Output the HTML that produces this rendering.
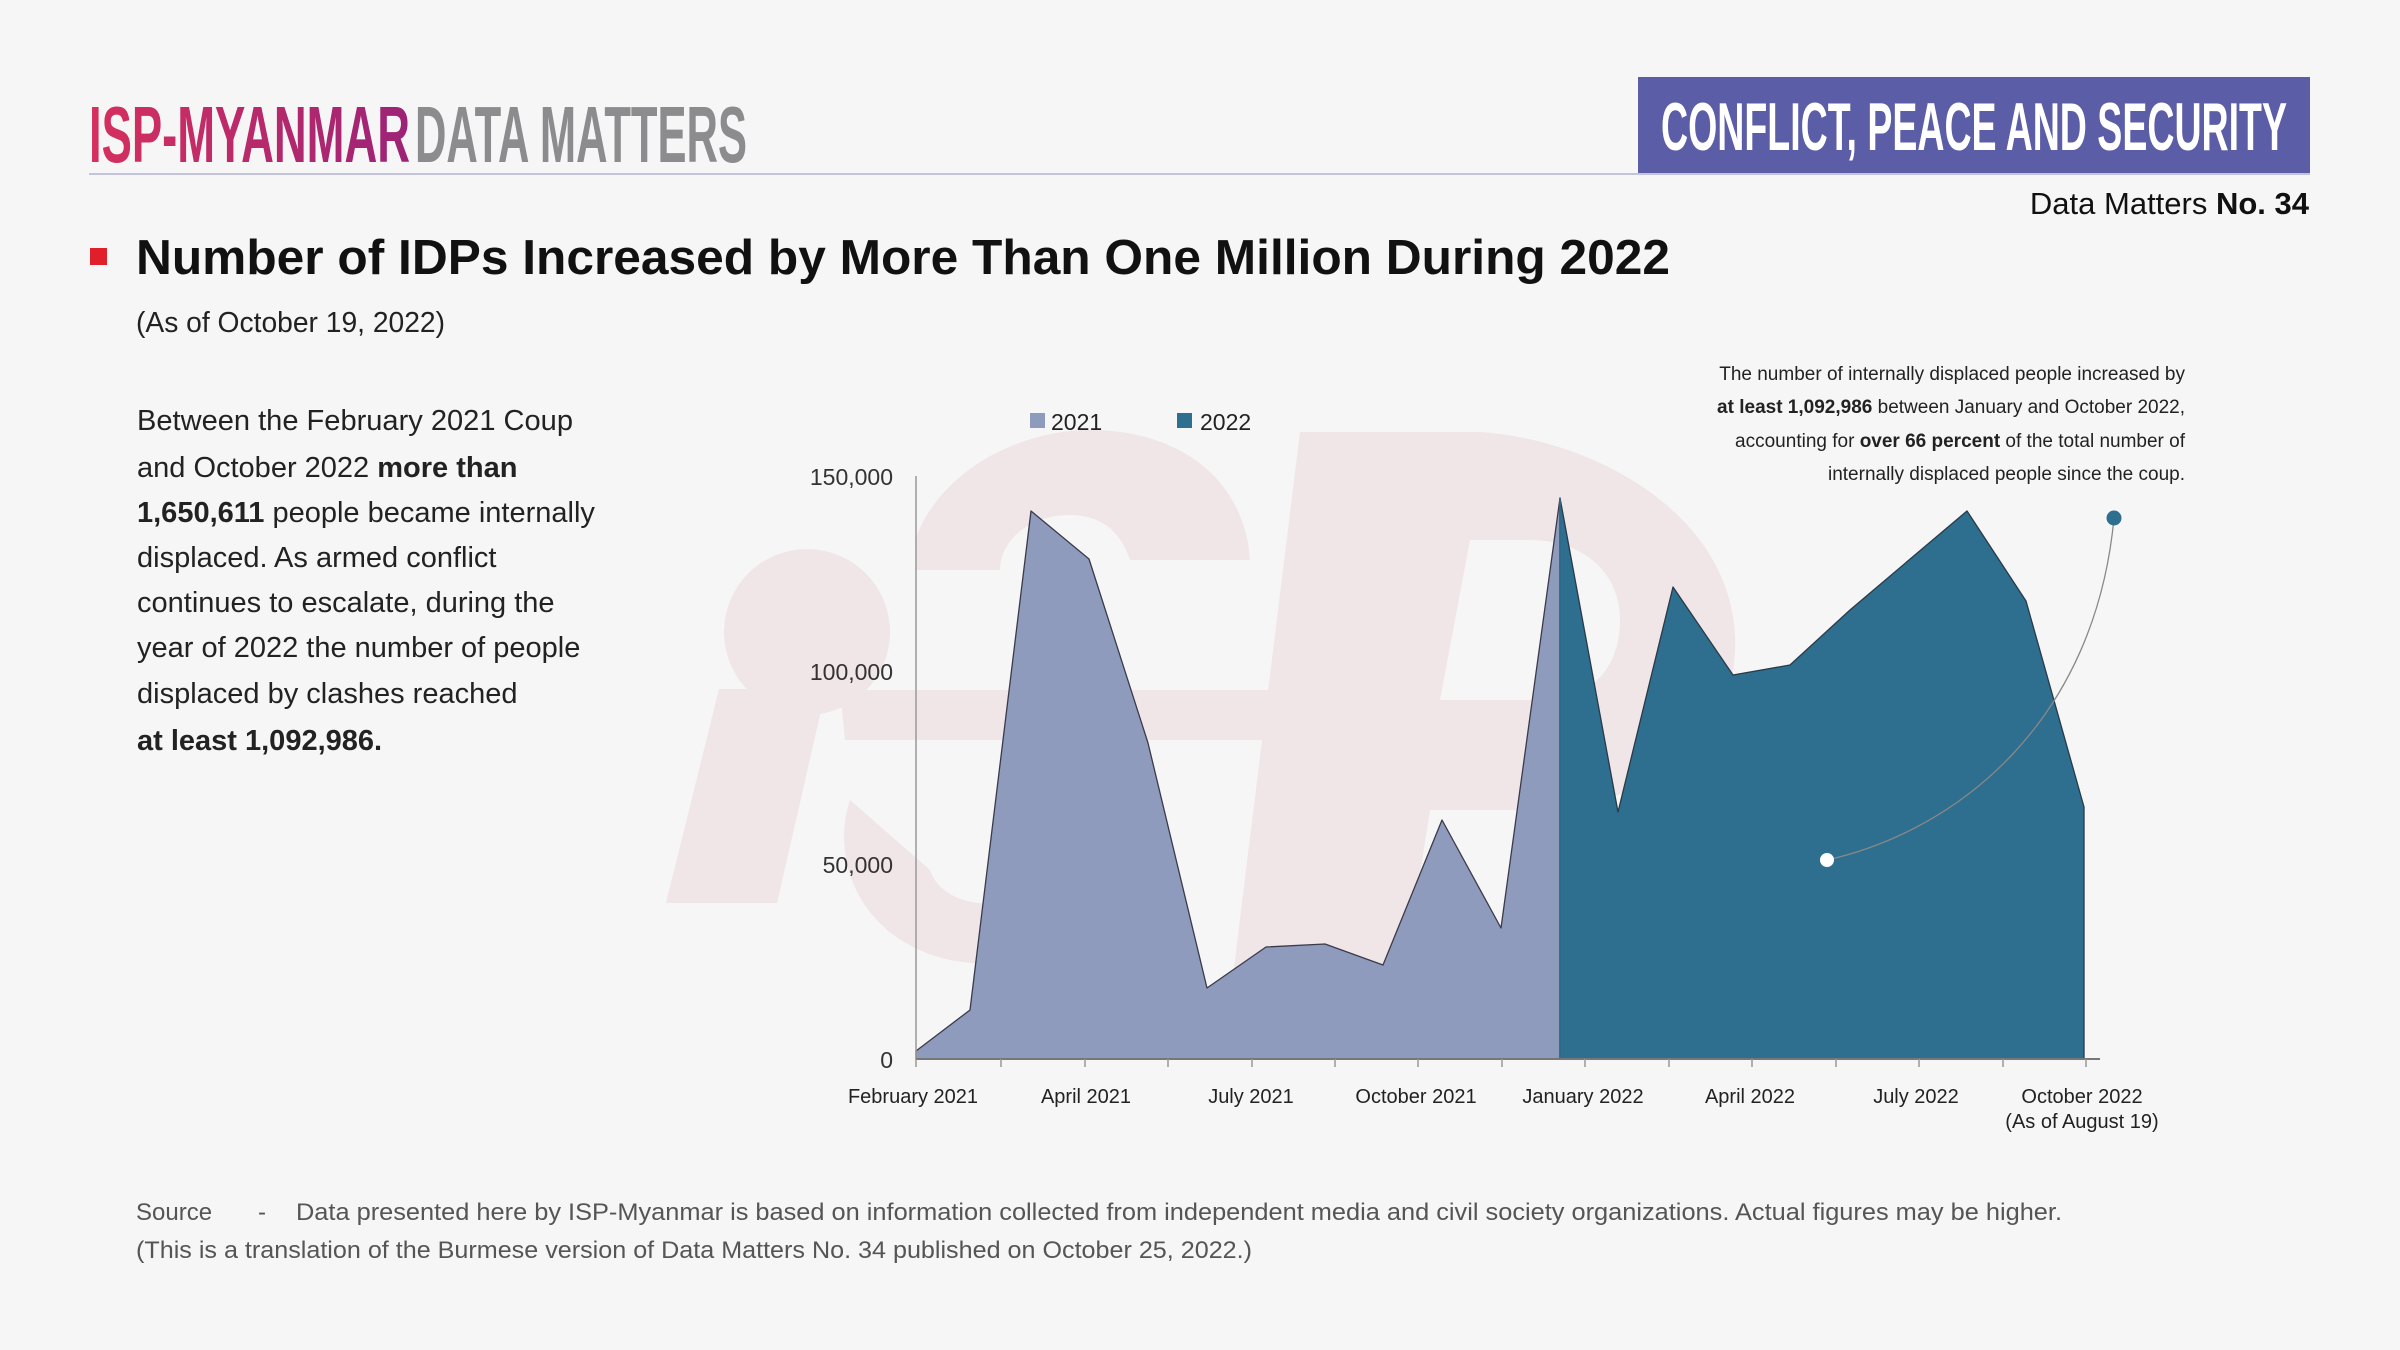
<!DOCTYPE html>
<html><head><meta charset="utf-8"><style>
html,body{margin:0;padding:0;background:#f5f6f5;}
svg{display:block;}
text{font-family:"Liberation Sans",sans-serif;}
</style></head><body>
<svg width="2400" height="1350" viewBox="0 0 2400 1350" xmlns="http://www.w3.org/2000/svg">
<defs>
<linearGradient id="g1" x1="0" x2="1" y1="0" y2="0"><stop offset="0" stop-color="#d6305e"/><stop offset="1" stop-color="#9c2377"/></linearGradient>
</defs>
<rect width="2400" height="1350" fill="#f5f6f5"/>
<!-- header -->
<text x="89" y="162" font-size="80" font-weight="bold" fill="url(#g1)" textLength="321" lengthAdjust="spacingAndGlyphs">ISP-MYANMAR</text>
<text x="415" y="162" font-size="80" font-weight="bold" fill="#8c8c8e" textLength="332" lengthAdjust="spacingAndGlyphs">DATA MATTERS</text>
<line x1="89" y1="174" x2="2310" y2="174" stroke="#c3c3de" stroke-width="2"/>
<rect x="1638" y="77" width="672" height="96" fill="#5b5ea6"/>
<text x="1661" y="150" font-size="68" font-weight="bold" fill="#fff" textLength="626" lengthAdjust="spacingAndGlyphs">CONFLICT, PEACE AND SECURITY</text>
<text x="2309" y="214" font-size="31" fill="#111" text-anchor="end">Data Matters <tspan font-weight="bold">No. 34</tspan></text>
<rect x="90" y="248" width="17" height="17" fill="#e01f2a"/>
<text x="136" y="274" font-size="49" font-weight="bold" fill="#111" textLength="1534" lengthAdjust="spacingAndGlyphs">Number of IDPs Increased by More Than One Million During 2022</text>
<text x="136" y="332" font-size="29" fill="#222" textLength="309" lengthAdjust="spacingAndGlyphs">(As of October 19, 2022)</text>
<!-- left paragraph -->
<g font-size="29" fill="#222">
<text x="137" y="430" textLength="436" lengthAdjust="spacingAndGlyphs">Between the February 2021 Coup</text>
<text x="137" y="477">and October 2022 <tspan font-weight="bold">more than</tspan></text>
<text x="137" y="522"><tspan font-weight="bold">1,650,611</tspan> people became internally</text>
<text x="137" y="567">displaced. As armed conflict</text>
<text x="137" y="612">continues to escalate, during the</text>
<text x="137" y="657">year of 2022 the number of people</text>
<text x="137" y="703">displaced by clashes reached</text>
<text x="137" y="750" font-weight="bold">at least 1,092,986.</text>
</g>
<!-- watermark -->
<g fill="#f0e5e7">
<circle cx="807" cy="632" r="83"/>
<polygon points="719,689 826,689 777,903 666,903"/>
<path d="M915,540 C940,470 1020,430 1090,430 C1180,430 1245,480 1250,560 L1130,560 C1120,530 1100,515 1070,515 C1030,515 1000,540 1000,570 L915,570 Z"/>
<path d="M850,800 C830,860 860,940 950,960 C1000,970 1080,960 1120,920 L1020,900 C980,910 940,900 930,870 Z"/>
<path d="M1320,432 L1480,432 C1600,440 1740,520 1735,650 C1730,760 1630,810 1520,810 L1430,810 L1400,1000 L1230,1000 L1300,432 Z M1470,540 L1440,700 L1560,700 C1600,690 1620,660 1620,620 C1620,570 1580,540 1530,540 Z"/>
<path d="M840,690 L1440,690 L1420,740 L845,740 Z"/>
</g>
<!-- legend -->
<rect x="1030" y="413" width="15" height="15" fill="#8f9bbd"/>
<text x="1051" y="430" font-size="23" fill="#222">2021</text>
<rect x="1177" y="413" width="15" height="15" fill="#2e6e8e"/>
<text x="1200" y="430" font-size="23" fill="#222">2022</text>
<!-- annotation -->
<g font-size="19" fill="#222" text-anchor="end">
<text x="2185" y="380">The number of internally displaced people increased by</text>
<text x="2185" y="413"><tspan font-weight="bold">at least 1,092,986</tspan> between January and October 2022,</text>
<text x="2185" y="447">accounting for <tspan font-weight="bold">over 66 percent</tspan> of the total number of</text>
<text x="2185" y="480">internally displaced people since the coup.</text>
</g>
<!-- y axis labels -->
<g font-size="23" fill="#333" text-anchor="end">
<text x="893" y="485">150,000</text>
<text x="893" y="680">100,000</text>
<text x="893" y="873">50,000</text>
<text x="893" y="1068">0</text>
</g>
<!-- areas -->
<polygon fill="#8f9bbd" stroke="#3a3a4a" stroke-width="1.3" stroke-linejoin="round" points="916,1059 916,1051 970,1010 1031,511 1089,559 1148,743 1207,988 1266,947 1325,944 1383,965 1442,820 1501,928 1560,498 1560,1059"/>
<polygon fill="#2e6e8e" stroke="#2a3a48" stroke-width="1.3" stroke-linejoin="round" points="1560,1059 1560,498 1618,812 1673,587 1733,675 1790,665 1850,610 1909,560 1967,511 2026,601 2084,807 2084,1059"/>
<line x1="1560" y1="498" x2="1560" y2="1059" stroke="#2e6e8e" stroke-width="1.5"/>
<!-- axes -->
<line x1="916" y1="476" x2="916" y2="1060" stroke="#999" stroke-width="1.5"/>
<line x1="916" y1="1059" x2="2100" y2="1059" stroke="#777" stroke-width="2"/>
<g stroke="#999" stroke-width="1.5">
<line x1="1001" y1="1059" x2="1001" y2="1067"/><line x1="1085" y1="1059" x2="1085" y2="1067"/><line x1="1168" y1="1059" x2="1168" y2="1067"/><line x1="1252" y1="1059" x2="1252" y2="1067"/><line x1="1335" y1="1059" x2="1335" y2="1067"/><line x1="1418" y1="1059" x2="1418" y2="1067"/><line x1="1502" y1="1059" x2="1502" y2="1067"/><line x1="1585" y1="1059" x2="1585" y2="1067"/><line x1="1669" y1="1059" x2="1669" y2="1067"/><line x1="1752" y1="1059" x2="1752" y2="1067"/><line x1="1836" y1="1059" x2="1836" y2="1067"/><line x1="1919" y1="1059" x2="1919" y2="1067"/><line x1="2003" y1="1059" x2="2003" y2="1067"/><line x1="2086" y1="1059" x2="2086" y2="1067"/><line x1="916" y1="1059" x2="916" y2="1067"/>
</g>
<g font-size="20" fill="#222" text-anchor="middle">
<text x="913" y="1103">February 2021</text>
<text x="1086" y="1103">April 2021</text>
<text x="1251" y="1103">July 2021</text>
<text x="1416" y="1103">October 2021</text>
<text x="1583" y="1103">January 2022</text>
<text x="1750" y="1103">April 2022</text>
<text x="1916" y="1103">July 2022</text>
<text x="2082" y="1103">October 2022</text>
<text x="2082" y="1128">(As of August 19)</text>
</g>
<!-- callout -->
<path d="M1827,860 C1960,830 2095,720 2114,518" fill="none" stroke="#888" stroke-width="1.3"/>
<circle cx="1827" cy="860" r="7" fill="#fff"/>
<circle cx="2114" cy="518" r="7.5" fill="#2e6e8e"/>
<!-- footer -->
<g font-size="24" fill="#555">
<text x="136" y="1220">Source</text>
<text x="258" y="1220">-</text>
<text x="296" y="1220" textLength="1766" lengthAdjust="spacingAndGlyphs">Data presented here by ISP-Myanmar is based on information collected from independent media and civil society organizations. Actual figures may be higher.</text>
<text x="136" y="1258" textLength="1116" lengthAdjust="spacingAndGlyphs">(This is a translation of the Burmese version of Data Matters No. 34 published on October 25, 2022.)</text>
</g>
</svg>
</body></html>
